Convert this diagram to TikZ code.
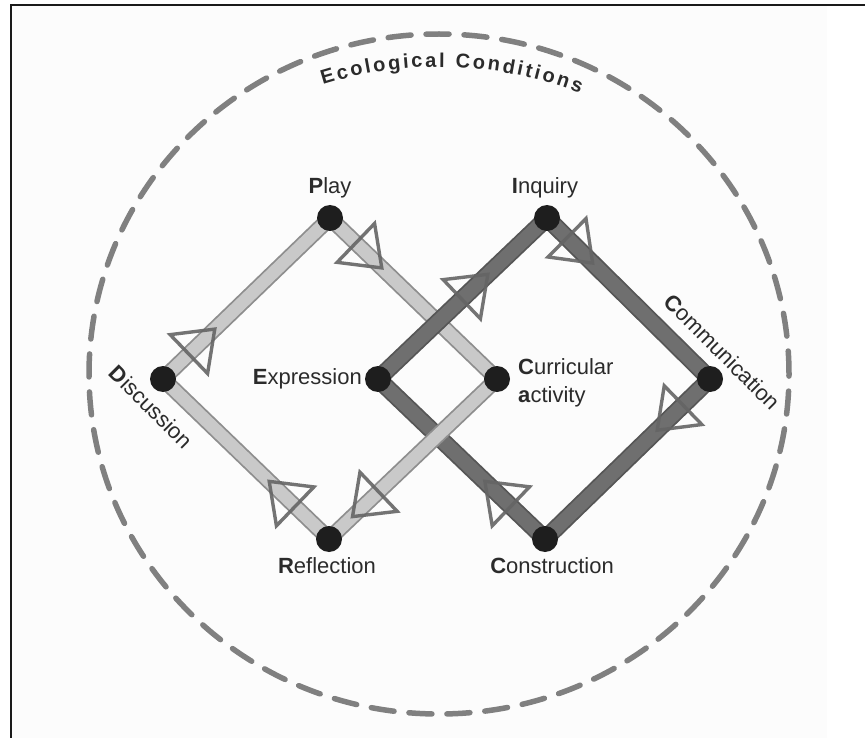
\documentclass[tikz,border=0pt]{standalone}
\usepackage{fontspec}
\setmainfont{Liberation Sans}
\usetikzlibrary{calc,decorations.text}

\definecolor{lightfill}{HTML}{C9C9C9}
\definecolor{lightedge}{HTML}{8E8E8E}
\definecolor{darkfill}{HTML}{6F6F6F}
\definecolor{darkedge}{HTML}{565656}
\definecolor{dotcol}{HTML}{1E1E1E}
\definecolor{ringcol}{HTML}{808080}
\definecolor{tricol}{HTML}{656565}
\definecolor{txtcol}{HTML}{2B2B2B}
\definecolor{bgcol}{HTML}{FCFCFC}
\definecolor{framecol}{HTML}{1A1A1A}

\pgfdeclarelayer{bglayer}
\pgfdeclarelayer{barlayer}
\pgfdeclarelayer{trilayer}
\pgfsetlayers{bglayer,barlayer,trilayer,main}

\tikzset{
  dot/.style={circle, fill=dotcol, minimum size=26pt, inner sep=0pt},
  lbl/.style={text=txtcol, font=\fontsize{22}{28}\selectfont, inner sep=0pt},
  lightbar/.style={draw=lightedge, line width=1.8pt, double=lightfill, double distance=12.5pt},
  darkbar/.style={draw=darkedge, line width=1.8pt, double=darkfill, double distance=14pt},
  tristyle/.style={draw=tricol, line width=3.4pt, line join=miter, opacity=0.9},
  ring/.style={draw=ringcol, line width=5.5pt, dash pattern=on 23pt off 15pt, line cap=round},
}

\newcommand\flowtri[3]{%
  \path ($(#1.center)!#3!(#2.center)$) coordinate (tt)
        ($(tt)!36pt!(#1.center)$) coordinate (tb);
  \draw[tristyle] (tt) -- ($(tb)!27pt!90:(tt)$) -- ($(tb)!27pt!-90:(tt)$) -- cycle;
}

\begin{document}
\begin{tikzpicture}[x=1pt,y=1pt]
\useasboundingbox (0,0) rectangle (865,-738);
\begin{pgfonlayer}{bglayer}
\fill[bgcol] (12,-6) rectangle (827,-738);
\draw[framecol, line width=1.5pt] (11,-738) -- (11,-5) -- (865,-5);
\end{pgfonlayer}

% outer ring
\draw[ring] (439,-374) ellipse [x radius=350pt, y radius=340pt];
\path[decorate, decoration={text along path,
   text={|\fontsize{20}{20}\selectfont\bfseries|Ecological Conditions},
   text color=txtcol, text align={fit to path}}]
   (439,-455) ++(107.4:388pt) arc[start angle=107.4, end angle=68.7, radius=388pt];

% nodes (dots)
\node[dot] (play) at (330,-218) {};
\node[dot] (disc) at (163,-379) {};
\node[dot] (curr) at (497,-379) {};
\node[dot] (refl) at (329,-539) {};
\node[dot] (inq)  at (547,-218) {};
\node[dot] (expr) at (378,-379) {};
\node[dot] (comm) at (710,-379) {};
\node[dot] (cons) at (545,-539) {};

% bars (woven)
\begin{pgfonlayer}{barlayer}
\draw[lightbar] (disc.center) -- (play.center);
\draw[lightbar] (play.center) -- (curr.center);
\draw[lightbar] (refl.center) -- (disc.center);
\draw[darkbar] (expr.center) -- (inq.center);
\draw[darkbar] (inq.center) -- (comm.center);
\draw[darkbar] (comm.center) -- (cons.center);
\draw[darkbar] (cons.center) -- (expr.center);
\draw[lightbar] (curr.center) -- (refl.center);
\end{pgfonlayer}

% direction triangles
\begin{pgfonlayer}{trilayer}
\flowtri{disc}{play}{0.31}
\flowtri{play}{curr}{0.31}
\flowtri{curr}{refl}{0.86}
\flowtri{refl}{disc}{0.36}
\flowtri{expr}{inq}{0.65}
\flowtri{inq}{comm}{0.28}
\flowtri{comm}{cons}{0.32}
\flowtri{cons}{expr}{0.36}
\end{pgfonlayer}

% labels
\node[lbl] (playlbl) at (330,-188) {\textbf{P}lay};
\node[lbl] (inqlbl) at (545,-188) {\textbf{I}nquiry};
\node[lbl, anchor=east] (exprlbl) at (362,-379) {\textbf{E}xpression};
\node[lbl, anchor=west, align=left] (currlbl) at (518,-383) {\textbf{C}urricular\\\textbf{a}ctivity};
\node[lbl] (refllbl) at (327,-566) {\textbf{R}eflection};
\node[lbl] (conslbl) at (552,-566) {\textbf{C}onstruction};
\node[lbl, rotate=-45] (commlbl) at (722,-352) {\textbf{C}ommunication};
\node[lbl, rotate=-45] (disclbl) at (151,-407) {\textbf{D}iscussion};
\end{tikzpicture}
\end{document}
